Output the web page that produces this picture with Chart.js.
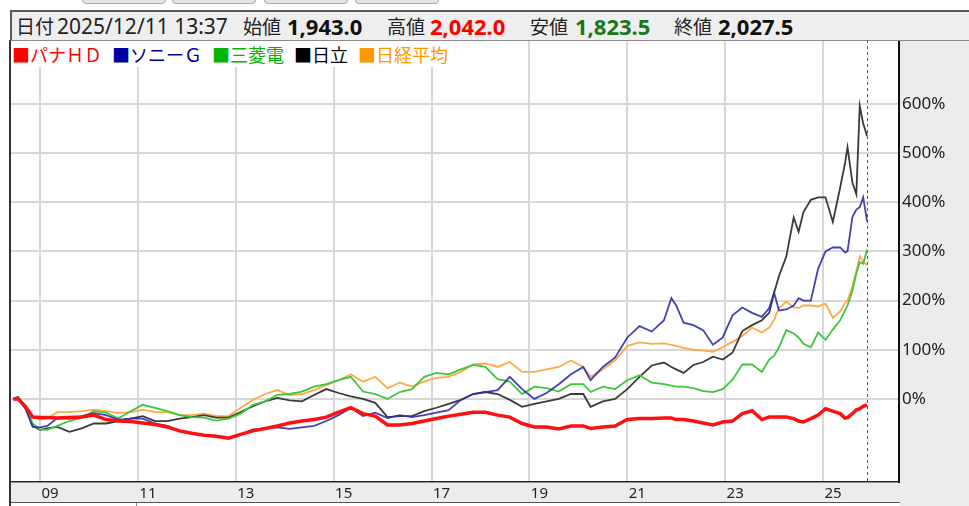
<!DOCTYPE html>
<html>
<head>
<meta charset="utf-8">
<script src="https://cdn.jsdelivr.net/npm/chart.js@4.4.1/dist/chart.umd.min.js"></script>
<style>
  html, body { margin:0; padding:0; width:969px; height:506px; overflow:hidden; background:#fff;
    font-family:"Noto Sans CJK JP","Noto Sans",sans-serif; }
  .tab { position:absolute; top:-6px; width:82px; height:8px; background:#e6e6e6; border:1px solid #a8a8a8; border-radius:4px; }
  #head { position:absolute; left:10px; top:10px; width:959px; height:28px; background:#eeeeee;
    border-top:2px solid #5a5a5a; border-left:2px solid #5a5a5a; border-bottom:1px solid #8a8a8a; z-index:3; }
  #head span { position:absolute; top:0; line-height:28px; white-space:nowrap; }
  .lb { font-size:19px; color:#222; }
  .num { font-size:22px; font-weight:bold; font-family:"Noto Sans","Noto Sans CJK JP",sans-serif; }
  #legend { position:absolute; left:12px; top:41px; height:26px; padding-right:12px; background:#fff; z-index:3;
    font-size:18px; line-height:26px; white-space:nowrap; }
  #legend span { margin-right:10px; }
  #panel { position:absolute; left:900px; top:40px; width:69px; height:466px; background:#ececec; }
  #band { position:absolute; left:11px; top:483px; width:889px; height:19px; background:#ececec; border-bottom:1px solid #555; }
  #frame { position:absolute; left:9px; top:40px; width:0; height:466px; border-left:2px solid #333; z-index:2; }
  #sub { position:absolute; left:11px; top:503px; width:125px; height:10px; border-right:1px solid #888; background:#fff; }
  canvas { position:absolute; left:0; top:0; z-index:1; }
</style>
</head>
<body>
<div class="tab" style="left:82px"></div>
<div class="tab" style="left:172px"></div>
<div class="tab" style="left:264px"></div>
<div class="tab" style="left:355px"></div>

<div id="panel"></div>
<div id="band"></div>
<div id="sub"></div>
<div id="frame"></div>

<div id="head">
  <span class="lb" style="left:4px">日付</span>
  <span class="lb" style="left:45px;font-family:'Noto Sans',sans-serif;font-size:21px">2025/12/11 13:37</span>
  <span class="lb" style="left:231px">始値</span>
  <span class="num" style="left:275px;color:#111">1,943.0</span>
  <span class="lb" style="left:375px">高値</span>
  <span class="num" style="left:418px;color:#f00">2,042.0</span>
  <span class="lb" style="left:518px">安値</span>
  <span class="num" style="left:563px;color:#187818">1,823.5</span>
  <span class="lb" style="left:662px">終値</span>
  <span class="num" style="left:706px;color:#111">2,027.5</span>
</div>

<div id="legend">
  <span style="color:#ff0000">■パナＨＤ</span><span style="color:#0000a0">■ソニーＧ</span><span style="color:#00b400">■三菱電</span><span style="color:#000">■日立</span><span style="color:#ff9900">■日経平均</span>
</div>

<canvas id="chart" width="969" height="506"></canvas>

<script>
// 時間軸 (年)
const years = [2008.45, 2008.55, 2008.7, 2008.85, 2009.0, 2009.15, 2009.35, 2009.6, 2009.85, 2010.1,
  2010.35, 2010.6, 2010.85, 2011.1, 2011.35, 2011.6, 2011.85, 2012.1, 2012.35, 2012.6,
  2012.85, 2013.1, 2013.35, 2013.6, 2013.85, 2014.1, 2014.35, 2014.6, 2014.85, 2015.1,
  2015.35, 2015.6, 2015.85, 2016.1, 2016.35, 2016.6, 2016.85, 2017.1, 2017.35, 2017.6,
  2017.85, 2018.1, 2018.35, 2018.6, 2018.85, 2019.1, 2019.35, 2019.6, 2019.85, 2020.1,
  2020.25, 2020.5, 2020.75, 2021.0, 2021.25, 2021.5, 2021.75, 2021.9, 2022.0, 2022.15,
  2022.35, 2022.55, 2022.75, 2022.95, 2023.15, 2023.35, 2023.55, 2023.75, 2023.9, 2024.0,
  2024.1, 2024.25, 2024.4, 2024.5, 2024.6, 2024.75, 2024.9, 2025.05, 2025.2, 2025.35,
  2025.45, 2025.5, 2025.6, 2025.68, 2025.75, 2025.82, 2025.9];

// 騰落率 (%)
const pana = [0, 0, -15, -37, -38, -38, -39, -38, -37, -33,
  -42, -45, -46, -49, -52, -57, -65, -70, -74, -76,
  -80, -72, -65, -60, -55, -49, -45, -42, -37, -27,
  -18, -30, -35, -53, -53, -50, -45, -40, -35, -31,
  -27, -27, -33, -37, -50, -57, -57, -61, -55, -55,
  -60, -57, -55, -42, -40, -40, -39, -39, -42, -42,
  -45, -49, -53, -47, -45, -30, -24, -42, -37, -37,
  -37, -37, -40, -45, -47, -40, -33, -20, -25, -30,
  -39, -38, -30, -22, -20, -15, -12];

const sony = [0, 0, -20, -57, -58, -55, -39, -40, -35, -29,
  -33, -42, -40, -40, -50, -55, -65, -70, -73, -75,
  -80, -72, -62, -60, -58, -61, -58, -55, -45, -33,
  -18, -35, -28, -39, -33, -37, -33, -28, -23, -2,
  10, 14, 18, 45, 20, 0, 12, 30, 50, 65,
  38, 65, 84, 125, 148, 137, 160, 205, 190, 155,
  150, 140, 110, 125, 170, 186, 175, 167, 185, 216,
  180, 182, 190, 205, 200, 200, 265, 300, 308, 308,
  298, 300, 370, 385, 390, 410, 361];

const mitsubishi = [0, 2, -15, -50, -62, -63, -55, -45, -38, -25,
  -28, -40, -25, -12, -18, -25, -33, -37, -38, -44,
  -40, -30, -12, -5, 8, 10, 15, 25, 30, 38,
  45, 15, 10, 0, 14, 20, 45, 53, 50, 60,
  69, 65, 40, 35, 10, 25, 22, 15, 30, 30,
  14, 25, 20, 38, 48, 33, 30, 27, 25, 25,
  22, 16, 14, 20, 39, 70, 70, 55, 80, 88,
  105, 140, 133, 125, 112, 105, 135, 120, 141, 160,
  180, 190, 220, 255, 278, 275, 304];

const hitachi = [0, 4, -15, -55, -63, -60, -57, -67, -60, -50,
  -50, -45, -40, -35, -45, -45, -40, -37, -33, -38,
  -38, -27, -15, -5, 2, -3, -5, 8, 20, 12,
  5, 0, -8, -37, -35, -35, -25, -18, -10, -2,
  10, 14, 10, -2, -16, -10, -5, 0, 10, 10,
  -16, -5, 0, 20, 45, 68, 74, 65, 60, 53,
  69, 75, 86, 80, 94, 138, 150, 160, 175, 216,
  250, 290, 369, 340, 380, 405, 410, 410, 360, 430,
  480, 512, 440, 416, 596, 560, 535];

const nikkei = [0, 2, -15, -35, -42, -40, -27, -27, -25, -22,
  -25, -29, -27, -22, -27, -27, -33, -33, -30, -35,
  -35, -18, -2, 10, 18, 8, 10, 18, 28, 38,
  50, 35, 45, 22, 33, 25, 35, 43, 45, 55,
  70, 72, 65, 75, 55, 55, 60, 65, 78, 65,
  45, 60, 78, 108, 115, 112, 113, 110, 108, 104,
  100, 98, 96, 105, 116, 128, 145, 135, 145, 161,
  185, 198, 186, 185, 190, 190, 188, 194, 165, 178,
  195, 200, 229, 260, 290, 278, 273];

const yTicks = [0, 100, 200, 300, 400, 500, 600];
const xTicks = [2009, 2011, 2013, 2015, 2017, 2019, 2021, 2023, 2025];

const toXY = vals => vals.map((v, i) => ({ x: years[i], y: v }));

// 現在位置の点線
const cursorLine = {
  id: 'cursorLine',
  beforeDatasetsDraw(chart) {
    const { ctx, chartArea, scales } = chart;
    const x = Math.round(scales.x.getPixelForValue(years[years.length - 1])) + 0.5;
    ctx.save();
    ctx.strokeStyle = '#555';
    ctx.lineWidth = 1;
    ctx.setLineDash([3, 3]);
    ctx.beginPath();
    ctx.moveTo(x, chartArea.top);
    ctx.lineTo(x, chartArea.bottom);
    ctx.stroke();
    ctx.restore();
  }
};

const line = (data, color, width) => ({
  data: toXY(data), borderColor: color, borderWidth: width,
  pointRadius: 0, tension: 0, fill: false
});

new Chart(document.getElementById('chart'), {
  type: 'line',
  data: {
    datasets: [
      line(pana, '#ff1010', 3.5),
      line(sony, 'rgba(45,45,170,0.9)', 1.8),
      line(mitsubishi, '#3cc83c', 1.8),
      line(hitachi, '#3a3a3a', 1.8),
      line(nikkei, '#ffaa48', 1.8)
    ]
  },
  options: {
    responsive: false,
    animation: false,
    layout: { padding: { left: 11, top: 40, right: 0, bottom: 0 } },
    plugins: { legend: { display: false }, tooltip: { enabled: false } },
    scales: {
      x: {
        type: 'linear',
        min: 2008.407, max: 2026.552,
        afterFit: s => { s.height = 24; },
        afterBuildTicks: s => { s.ticks = xTicks.map(v => ({ value: v })); },
        grid: { color: '#d8d8d8', lineWidth: 2, drawTicks: false },
        border: { color: '#222', width: 1.5 },
        ticks: {
          padding: 3, labelOffset: 10, maxRotation: 0,
          color: '#222', font: { family: "'Noto Sans', sans-serif", size: 15 },
          callback: v => String(v % 100).padStart(2, '0')
        }
      },
      y: {
        position: 'right',
        min: -169, max: 730,
        afterFit: s => { s.width = 70; },
        afterBuildTicks: s => { s.ticks = yTicks.map(v => ({ value: v })); },
        grid: { color: '#d8d8d8', lineWidth: 2, drawTicks: false },
        border: { color: '#111', width: 2 },
        ticks: {
          padding: 3, color: '#222',
          font: { family: "'Noto Sans', sans-serif", size: 17 },
          callback: v => v + '%'
        }
      }
    }
  },
  plugins: [cursorLine]
});
</script>
</body>
</html>
